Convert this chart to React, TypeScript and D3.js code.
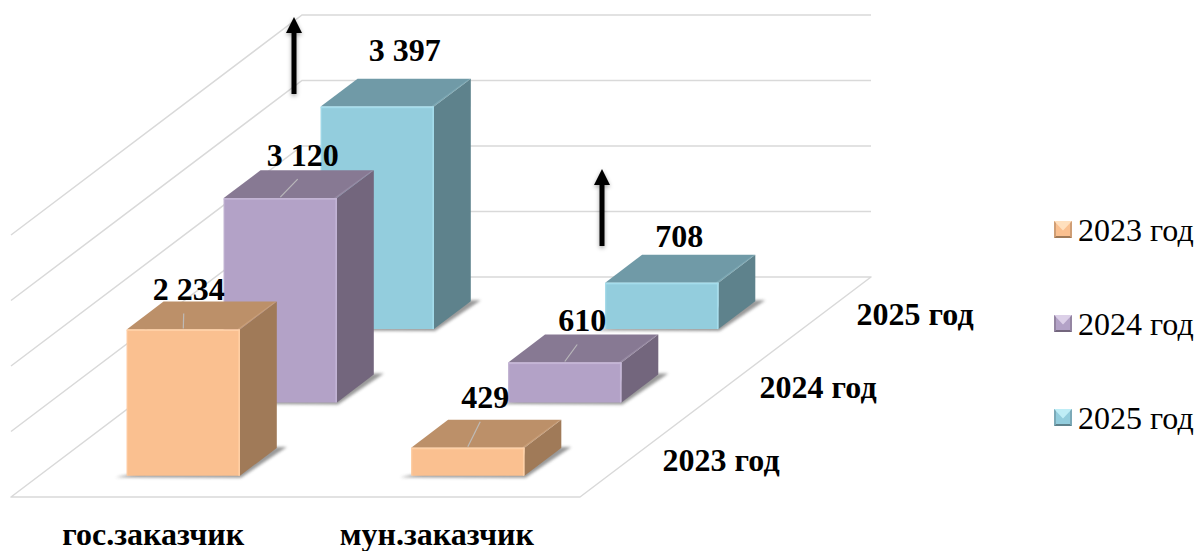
import React from 'react';
import * as d3 from 'd3';

const categories = ['гос.заказчик', 'мун.заказчик'];
const series = ['2023 год', '2024 год', '2025 год'];
const gosValues = [2234, 3120, 3397];
const munValues = [429, 610, 708];
const gridTicks = [0, 1000, 2000, 3000, 4000];

const frontColors = ['#FAC090', '#B3A2C7', '#93CDDD'];
const topColors = ['#BC9069', '#877993', '#709AA7'];
const sideColors = ['#A07A58', '#73667D', '#5E828C'];
const edgeColors = ['#FFD0A6', '#C4B5D6', '#A5DDEC'];
const lightColors = ['#FFE0BE', '#DCD0E8', '#BFEDF6'];

const FONT = '"Liberation Serif", serif';

// floor corners of the oblique box
const floorX = 11;
const floorY = 497;
const floorW = 569;
const depthDx = 291;
const depthDy = 220;

// bars sit a touch below the band the scales give
const barNudgeY = 1.5;

const xScale = d3.scaleBand().domain(categories).range([0, floorW]).paddingInner(0.602).paddingOuter(0.301);
const depthScale = d3.scaleBand().domain(series).range([0, 1]).paddingInner(0.62).paddingOuter(0.31);
const yScale = d3.scaleLinear().domain([0, 4000]).range([0, 262]);

const project = (x: number, d: number, v: number): [number, number] => [
  floorX + x + d * depthDx,
  floorY - d * depthDy - yScale(v),
];
const poly = (pts: [number, number][]) => pts.map((p) => p.join(',')).join(' ');

const fmt = (v: number) => d3.format(',')(v).replace(',', ' ');

// label offset from the top front-left corner of each bar: dx, dy, leader on/off
const labelOffsets = [
  [
    [62, -28, 1],
    [79, -31, 1],
    [84, -44, 0],
  ],
  [
    [74, -38, 1],
    [74, -30, 1],
    [74, -34, 0],
  ],
];

const Arrow = ({ x, top, bottom }: { x: number; top: number; bottom: number }) => (
  <g filter="url(#arrowShadow)">
    <line x1={x} x2={x} y1={top + 14} y2={bottom} stroke="#000" strokeWidth={5} />
    <polygon points={poly([[x, top], [x + 8, top + 16], [x - 8, top + 16]])} fill="#000" />
  </g>
);

const Bar = ({ cat, s, value, i, j }: { cat: string; s: string; value: number; i: number; j: number }) => {
  const x0 = xScale(cat)!;
  const x1 = x0 + xScale.bandwidth();
  const d0 = depthScale(s)!;
  const d1 = d0 + depthScale.bandwidth();
  const at = (x: number, d: number, v: number): [number, number] => {
    const p = project(x, d, v);
    return [p[0], p[1] + barNudgeY];
  };
  const fbl = at(x0, d0, 0);
  const fbr = at(x1, d0, 0);
  const ftl = at(x0, d0, value);
  const ftr = at(x1, d0, value);
  const bbr = at(x1, d1, 0);
  const btl = at(x0, d1, value);
  const btr = at(x1, d1, value);
  const [dx, dy, leader] = labelOffsets[i][j];
  const cx = (ftl[0] + ftr[0]) / 2;
  return (
    <g>
      <polygon
        points={poly([
          [fbl[0] - 11, fbl[1] + 1.5],
          [fbr[0] + 1, fbr[1] + 2],
          [bbr[0] + 10, bbr[1] - 1],
          [bbr[0], bbr[1] - 1],
        ])}
        fill="#555"
        opacity={0.6}
        filter="url(#barShadow)"
      />
      <polygon points={poly([ftl, ftr, btr, btl])} fill={topColors[j]} />
      <polygon points={poly([ftr, btr, bbr, fbr])} fill={sideColors[j]} />
      <polygon points={poly([ftr, btr, [btr[0] - 3, btr[1] + 1], [ftr[0] - 3, ftr[1]]])} fill={lightColors[j]} opacity={0.18} />
      <rect x={ftl[0]} y={ftl[1]} width={x1 - x0} height={fbl[1] - ftl[1]} fill={frontColors[j]} rx={1} />
      <rect x={ftl[0]} y={ftl[1]} width={x1 - x0} height={1.6} fill={edgeColors[j]} />
      <rect x={ftr[0] - 1.5} y={ftl[1]} width={1.5} height={fbl[1] - ftl[1]} fill={edgeColors[j]} />
      <rect x={ftl[0]} y={ftl[1]} width={1.2} height={fbl[1] - ftl[1]} fill={edgeColors[j]} opacity={0.6} />
      {leader ? (
        <line
          x1={cx}
          y1={ftl[1] - 1}
          x2={ftl[0] + dx - 5}
          y2={ftl[1] + dy + 12}
          stroke="#BFBFBF"
          strokeWidth={1.2}
          opacity={0.9}
        />
      ) : null}
    </g>
  );
};

const App = () => {
  const valuesByCat = [gosValues, munValues];
  return (
    <svg width={1198} height={551} style={{ position: 'absolute', left: 0, top: 0, display: 'block' }} fontFamily={FONT}>
      <defs>
        <filter id="barShadow" x="-20%" y="-50%" width="140%" height="200%">
          <feGaussianBlur stdDeviation={1.6} />
        </filter>
        <filter id="arrowShadow" x="-200%" y="-10%" width="500%" height="120%">
          <feDropShadow dx={0} dy={2} stdDeviation={2} floodColor="#000" floodOpacity={0.35} />
        </filter>
      </defs>

      {/* floor and walls */}
      <polygon
        points={poly([project(0, 0, 0), project(floorW, 0, 0), project(floorW, 1, 0), project(0, 1, 0)])}
        fill="none"
        stroke="#D9D9D9"
        strokeWidth={1.5}
        strokeLinejoin="round"
      />
      {gridTicks.slice(1).map((t) => {
        const a = project(0, 0, t);
        const b = project(0, 1, t);
        const c = project(floorW, 1, t);
        return <polyline key={t} points={poly([a, b, c])} fill="none" stroke="#D9D9D9" strokeWidth={1.5} />;
      })}

      {/* bars, back row first */}
      {[2, 1, 0].map((j) =>
        categories.map((cat, i) => <Bar key={cat + j} cat={cat} s={series[j]} value={valuesByCat[i][j]} i={i} j={j} />),
      )}

      <Arrow x={294} top={17} bottom={94} />
      <Arrow x={602} top={169} bottom={246} />

      {/* value labels */}
      {categories.map((cat, i) =>
        series.map((s, j) => {
          const v = valuesByCat[i][j];
          const p = project(xScale(cat)!, depthScale(s)!, v);
          return (
            <text
              key={cat + s}
              x={p[0] + labelOffsets[i][j][0]}
              y={p[1] + labelOffsets[i][j][1]}
              textAnchor="middle"
              fontSize={32}
              fontWeight="bold"
              fill="#000"
            >
              {fmt(v)}
            </text>
          );
        }),
      )}

      {/* category axis */}
      {categories.map((cat, i) => (
        <text
          key={cat}
          x={floorX + xScale(cat)! + xScale.bandwidth() / 2 - i}
          y={545}
          textAnchor="middle"
          fontSize={32}
          fontWeight="bold"
        >
          {cat}
        </text>
      ))}

      {/* depth axis */}
      {series.map((s) => {
        const p = project(621.5, depthScale(s)!, 0);
        return (
          <text key={s} x={p[0]} y={p[1] - 3} fontSize={32} fontWeight="bold">
            {s}
          </text>
        );
      })}

      {/* legend */}
      {series.map((s, j) => {
        const y = 221 + j * 94;
        const x = 1054;
        const w = 18;
        const h = 17;
        const c: [number, number] = [x + w / 2, y + h / 2 + 1];
        return (
          <g key={s}>
            <rect x={x} y={y} width={w} height={h} fill={frontColors[j]} />
            <polygon points={poly([[x, y], [x + w, y], c])} fill={lightColors[j]} />
            <polygon points={poly([[x, y + h], [x + w, y + h], [x + w - 2, y + h - 2], [x + 2, y + h - 2]])} fill={sideColors[j]} />
            <polygon points={poly([[x, y], [x, y + h], [x + 2, y + h - 2], [x + 2, y + 2]])} fill={topColors[j]} opacity={0.7} />
            <polygon points={poly([[x + w, y], [x + w, y + h], [x + w - 2, y + h - 2], [x + w - 2, y + 2]])} fill={topColors[j]} opacity={0.7} />
            <text x={1078} y={y + 20} fontSize={32} fill="#000">
              {s}
            </text>
          </g>
        );
      })}
    </svg>
  );
};

export default App;
